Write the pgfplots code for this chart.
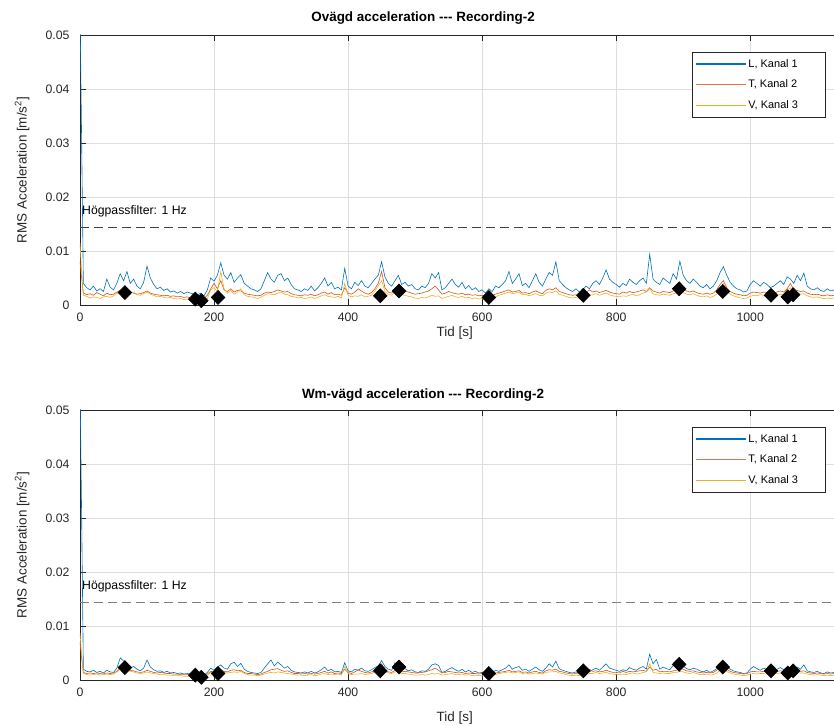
\documentclass[border=0pt]{standalone}
\usepackage{pgfplots}
\pgfplotsset{compat=1.18}
\usepackage{pgfplotstable}
\usepackage{fontspec}
\setmainfont{Liberation Sans}
\definecolor{mblue}{rgb}{0,0.447,0.741}
\definecolor{mred}{rgb}{0.85,0.325,0.098}
\definecolor{myellow}{rgb}{0.929,0.694,0.125}
\definecolor{axgray}{rgb}{0.15,0.15,0.15}
\definecolor{gridgray}{rgb}{0.87,0.87,0.87}

\pgfplotstableread{
t L T V
0 0.0550 0.0080 0.0115
2.5 0.0300 0.0050 0.0060
5 0.0040 0.0022 0.0018
10 0.0032 0.0019 0.0016
15 0.0028 0.0021 0.0013
20 0.0035 0.0018 0.0015
25 0.0026 0.0023 0.0014
30 0.0030 0.0020 0.0012
35 0.0025 0.0017 0.0015
40 0.0048 0.0022 0.0016
45 0.0033 0.0019 0.0014
50 0.0028 0.0020 0.0017
55 0.0040 0.0024 0.0021
60 0.0058 0.0027 0.0025
65 0.0045 0.0025 0.0029
70 0.0062 0.0028 0.0026
75 0.0040 0.0024 0.0022
80 0.0048 0.0022 0.0024
85 0.0035 0.0020 0.0019
90 0.0030 0.0021 0.0018
95 0.0042 0.0023 0.0021
100 0.0072 0.0026 0.0024
105 0.0050 0.0022 0.0020
110 0.0038 0.0020 0.0018
115 0.0030 0.0019 0.0015
120 0.0033 0.0018 0.0016
125 0.0027 0.0017 0.0014
130 0.0030 0.0018 0.0013
135 0.0024 0.0016 0.0014
140 0.0026 0.0017 0.0012
145 0.0022 0.0015 0.0011
150 0.0025 0.0016 0.0012
155 0.0021 0.0014 0.0010
160 0.0024 0.0015 0.0011
165 0.0022 0.0013 0.0009
170 0.0020 0.0012 0.0008
175 0.0018 0.0011 0.0008
180 0.0022 0.0014 0.0007
185 0.0017 0.0012 0.0008
190 0.0028 0.0018 0.0012
195 0.0050 0.0030 0.0028
200 0.0044 0.0040 0.0032
205 0.0055 0.0030 0.0025
210 0.0078 0.0045 0.0062
215 0.0055 0.0028 0.0030
220 0.0048 0.0025 0.0022
225 0.0060 0.0030 0.0027
230 0.0042 0.0024 0.0020
235 0.0050 0.0027 0.0024
240 0.0056 0.0026 0.0030
245 0.0040 0.0022 0.0019
250 0.0035 0.0020 0.0016
255 0.0030 0.0019 0.0015
260 0.0028 0.0018 0.0014
265 0.0025 0.0017 0.0012
270 0.0030 0.0018 0.0014
275 0.0045 0.0022 0.0018
280 0.0060 0.0024 0.0021
285 0.0048 0.0023 0.0020
290 0.0042 0.0025 0.0019
295 0.0055 0.0028 0.0022
300 0.0058 0.0026 0.0024
305 0.0045 0.0024 0.0020
310 0.0050 0.0025 0.0019
315 0.0038 0.0021 0.0016
320 0.0030 0.0019 0.0015
325 0.0028 0.0018 0.0013
330 0.0025 0.0017 0.0014
335 0.0030 0.0019 0.0012
340 0.0027 0.0018 0.0013
345 0.0035 0.0020 0.0015
350 0.0026 0.0017 0.0012
355 0.0032 0.0019 0.0014
360 0.0040 0.0022 0.0017
365 0.0050 0.0024 0.0019
370 0.0035 0.0020 0.0016
375 0.0042 0.0023 0.0015
380 0.0030 0.0019 0.0014
385 0.0033 0.0020 0.0016
390 0.0028 0.0018 0.0013
395 0.0068 0.0032 0.0040
400 0.0035 0.0022 0.0018
405 0.0030 0.0020 0.0015
410 0.0042 0.0024 0.0017
415 0.0036 0.0030 0.0016
420 0.0045 0.0026 0.0019
425 0.0035 0.0022 0.0015
430 0.0032 0.0020 0.0016
435 0.0040 0.0023 0.0018
440 0.0048 0.0030 0.0026
445 0.0055 0.0040 0.0035
450 0.0080 0.0062 0.0045
455 0.0052 0.0032 0.0025
460 0.0040 0.0024 0.0020
465 0.0035 0.0022 0.0018
470 0.0045 0.0028 0.0024
475 0.0055 0.0030 0.0026
480 0.0038 0.0024 0.0019
485 0.0042 0.0026 0.0018
490 0.0035 0.0024 0.0016
495 0.0038 0.0022 0.0015
500 0.0030 0.0020 0.0013
505 0.0028 0.0021 0.0012
510 0.0035 0.0022 0.0014
515 0.0032 0.0024 0.0013
520 0.0040 0.0026 0.0015
525 0.0058 0.0030 0.0018
530 0.0050 0.0035 0.0016
535 0.0060 0.0028 0.0017
540 0.0028 0.0020 0.0012
545 0.0032 0.0022 0.0014
550 0.0040 0.0025 0.0016
555 0.0048 0.0023 0.0018
560 0.0038 0.0021 0.0015
565 0.0033 0.0020 0.0014
570 0.0042 0.0022 0.0016
575 0.0030 0.0019 0.0013
580 0.0036 0.0020 0.0014
585 0.0028 0.0018 0.0012
590 0.0032 0.0019 0.0013
595 0.0025 0.0017 0.0011
600 0.0028 0.0018 0.0012
605 0.0022 0.0016 0.0010
610 0.0030 0.0017 0.0011
615 0.0025 0.0018 0.0012
620 0.0035 0.0020 0.0015
625 0.0032 0.0022 0.0018
630 0.0038 0.0024 0.0020
635 0.0045 0.0026 0.0022
640 0.0062 0.0028 0.0024
645 0.0040 0.0024 0.0021
650 0.0048 0.0025 0.0022
655 0.0058 0.0027 0.0024
660 0.0036 0.0022 0.0019
665 0.0040 0.0023 0.0020
670 0.0032 0.0021 0.0017
675 0.0045 0.0024 0.0019
680 0.0058 0.0026 0.0021
685 0.0042 0.0023 0.0018
690 0.0035 0.0021 0.0017
695 0.0048 0.0027 0.0022
700 0.0060 0.0030 0.0024
705 0.0055 0.0028 0.0023
710 0.0080 0.0032 0.0026
715 0.0045 0.0025 0.0020
720 0.0038 0.0023 0.0018
725 0.0032 0.0021 0.0016
730 0.0028 0.0019 0.0014
735 0.0025 0.0018 0.0013
740 0.0030 0.0019 0.0014
745 0.0024 0.0017 0.0012
750 0.0028 0.0018 0.0013
755 0.0035 0.0022 0.0016
760 0.0030 0.0028 0.0018
765 0.0040 0.0024 0.0019
770 0.0045 0.0026 0.0021
775 0.0038 0.0023 0.0018
780 0.0050 0.0025 0.0020
785 0.0065 0.0027 0.0022
790 0.0048 0.0024 0.0019
795 0.0042 0.0022 0.0017
800 0.0038 0.0021 0.0016
805 0.0033 0.0020 0.0015
810 0.0040 0.0024 0.0017
815 0.0036 0.0022 0.0016
820 0.0048 0.0025 0.0018
825 0.0042 0.0023 0.0020
830 0.0038 0.0024 0.0017
835 0.0045 0.0026 0.0019
840 0.0050 0.0028 0.0022
845 0.0040 0.0025 0.0024
850 0.0094 0.0032 0.0030
855 0.0048 0.0026 0.0021
860 0.0042 0.0024 0.0019
865 0.0038 0.0022 0.0018
870 0.0050 0.0025 0.0020
875 0.0045 0.0024 0.0019
880 0.0040 0.0023 0.0018
885 0.0058 0.0026 0.0021
890 0.0048 0.0028 0.0022
895 0.0081 0.0033 0.0025
900 0.0055 0.0030 0.0023
905 0.0045 0.0026 0.0020
910 0.0040 0.0024 0.0019
915 0.0048 0.0026 0.0021
920 0.0042 0.0023 0.0018
925 0.0035 0.0021 0.0016
930 0.0032 0.0020 0.0015
935 0.0038 0.0022 0.0017
940 0.0030 0.0020 0.0014
945 0.0035 0.0022 0.0016
950 0.0045 0.0028 0.0020
955 0.0060 0.0038 0.0030
960 0.0071 0.0045 0.0040
965 0.0055 0.0032 0.0026
970 0.0042 0.0025 0.0020
975 0.0035 0.0022 0.0017
980 0.0030 0.0020 0.0015
985 0.0028 0.0019 0.0013
990 0.0024 0.0017 0.0012
995 0.0026 0.0018 0.0013
1000 0.0038 0.0022 0.0016
1005 0.0045 0.0024 0.0018
1010 0.0040 0.0023 0.0017
1015 0.0035 0.0022 0.0019
1020 0.0042 0.0024 0.0018
1025 0.0038 0.0023 0.0017
1030 0.0032 0.0021 0.0016
1035 0.0035 0.0022 0.0017
1040 0.0040 0.0024 0.0018
1045 0.0045 0.0026 0.0020
1050 0.0038 0.0024 0.0019
1055 0.0052 0.0030 0.0028
1060 0.0048 0.0040 0.0032
1065 0.0040 0.0028 0.0024
1070 0.0055 0.0027 0.0022
1075 0.0045 0.0025 0.0020
1080 0.0059 0.0026 0.0021
1085 0.0035 0.0022 0.0017
1090 0.0030 0.0020 0.0015
1095 0.0028 0.0019 0.0014
1100 0.0032 0.0020 0.0015
1105 0.0027 0.0018 0.0013
1110 0.0025 0.0017 0.0012
1115 0.0030 0.0019 0.0013
1120 0.0026 0.0017 0.0012
1125 0.0028 0.0018 0.0013
}\unweighted

\pgfplotstableread{
t L T V
0 0.0550 0.0070 0.0087
2.5 0.0300 0.0040 0.0045
5 0.0020 0.0014 0.0012
10 0.0016 0.0012 0.0010
15 0.0015 0.0013 0.0009
20 0.0018 0.0012 0.0010
25 0.0014 0.0013 0.0011
30 0.0016 0.0012 0.0009
35 0.0013 0.0011 0.0010
40 0.0018 0.0013 0.0011
45 0.0015 0.0012 0.0010
50 0.0014 0.0013 0.0011
55 0.0022 0.0016 0.0015
60 0.0041 0.0024 0.0020
65 0.0035 0.0026 0.0022
70 0.0030 0.0022 0.0019
75 0.0022 0.0018 0.0016
80 0.0025 0.0017 0.0015
85 0.0020 0.0015 0.0013
90 0.0017 0.0014 0.0012
95 0.0022 0.0015 0.0013
100 0.0037 0.0018 0.0015
105 0.0024 0.0016 0.0013
110 0.0019 0.0014 0.0012
115 0.0016 0.0013 0.0011
120 0.0017 0.0014 0.0010
125 0.0014 0.0013 0.0010
130 0.0016 0.0012 0.0009
135 0.0013 0.0012 0.0009
140 0.0014 0.0011 0.0008
145 0.0012 0.0011 0.0008
150 0.0013 0.0010 0.0008
155 0.0011 0.0010 0.0007
160 0.0012 0.0010 0.0007
165 0.0011 0.0009 0.0006
170 0.0010 0.0008 0.0006
175 0.0009 0.0008 0.0005
180 0.0011 0.0009 0.0005
185 0.0009 0.0008 0.0006
190 0.0014 0.0011 0.0009
195 0.0022 0.0016 0.0014
200 0.0018 0.0015 0.0013
205 0.0024 0.0017 0.0015
210 0.0028 0.0019 0.0020
215 0.0022 0.0016 0.0014
220 0.0020 0.0015 0.0013
225 0.0030 0.0018 0.0014
230 0.0033 0.0019 0.0015
235 0.0025 0.0017 0.0014
240 0.0031 0.0018 0.0016
245 0.0020 0.0014 0.0012
250 0.0016 0.0012 0.0010
255 0.0014 0.0012 0.0009
260 0.0013 0.0011 0.0009
265 0.0012 0.0010 0.0008
270 0.0014 0.0011 0.0009
275 0.0022 0.0014 0.0011
280 0.0030 0.0016 0.0013
285 0.0037 0.0019 0.0014
290 0.0026 0.0020 0.0013
295 0.0033 0.0021 0.0015
300 0.0028 0.0018 0.0014
305 0.0022 0.0016 0.0013
310 0.0025 0.0017 0.0012
315 0.0018 0.0014 0.0011
320 0.0015 0.0012 0.0010
325 0.0014 0.0012 0.0009
330 0.0013 0.0011 0.0009
335 0.0015 0.0012 0.0008
340 0.0013 0.0011 0.0009
345 0.0016 0.0012 0.0010
350 0.0013 0.0011 0.0008
355 0.0015 0.0012 0.0009
360 0.0019 0.0014 0.0011
365 0.0024 0.0016 0.0012
370 0.0017 0.0013 0.0010
375 0.0020 0.0015 0.0011
380 0.0015 0.0012 0.0010
385 0.0016 0.0013 0.0011
390 0.0014 0.0012 0.0009
395 0.0032 0.0020 0.0025
400 0.0017 0.0014 0.0012
405 0.0015 0.0012 0.0010
410 0.0020 0.0015 0.0011
415 0.0018 0.0019 0.0011
420 0.0022 0.0016 0.0012
425 0.0017 0.0014 0.0010
430 0.0016 0.0013 0.0011
435 0.0019 0.0015 0.0012
440 0.0023 0.0018 0.0015
445 0.0026 0.0022 0.0019
450 0.0036 0.0030 0.0024
455 0.0025 0.0019 0.0015
460 0.0020 0.0015 0.0013
465 0.0018 0.0014 0.0012
470 0.0032 0.0018 0.0015
475 0.0026 0.0019 0.0016
480 0.0019 0.0015 0.0012
485 0.0021 0.0016 0.0012
490 0.0017 0.0015 0.0011
495 0.0019 0.0014 0.0010
500 0.0015 0.0013 0.0009
505 0.0014 0.0013 0.0009
510 0.0017 0.0014 0.0010
515 0.0016 0.0015 0.0009
520 0.0020 0.0017 0.0010
525 0.0028 0.0019 0.0012
530 0.0030 0.0022 0.0011
535 0.0027 0.0018 0.0012
540 0.0014 0.0013 0.0009
545 0.0016 0.0014 0.0010
550 0.0020 0.0016 0.0011
555 0.0023 0.0015 0.0012
560 0.0019 0.0014 0.0010
565 0.0016 0.0013 0.0010
570 0.0020 0.0014 0.0011
575 0.0015 0.0012 0.0009
580 0.0018 0.0013 0.0010
585 0.0014 0.0012 0.0008
590 0.0016 0.0012 0.0009
595 0.0013 0.0011 0.0008
600 0.0014 0.0012 0.0008
605 0.0011 0.0010 0.0007
610 0.0015 0.0011 0.0008
615 0.0013 0.0012 0.0008
620 0.0018 0.0013 0.0010
625 0.0016 0.0014 0.0012
630 0.0019 0.0015 0.0013
635 0.0022 0.0016 0.0014
640 0.0028 0.0018 0.0015
645 0.0020 0.0015 0.0013
650 0.0023 0.0016 0.0014
655 0.0025 0.0017 0.0015
660 0.0018 0.0014 0.0012
665 0.0020 0.0015 0.0013
670 0.0016 0.0013 0.0011
675 0.0020 0.0015 0.0012
680 0.0024 0.0016 0.0013
685 0.0019 0.0014 0.0012
690 0.0016 0.0013 0.0011
695 0.0022 0.0017 0.0014
700 0.0030 0.0019 0.0015
705 0.0024 0.0018 0.0015
710 0.0035 0.0020 0.0016
715 0.0021 0.0016 0.0013
720 0.0018 0.0015 0.0012
725 0.0016 0.0013 0.0010
730 0.0014 0.0012 0.0009
735 0.0013 0.0011 0.0008
740 0.0015 0.0012 0.0009
745 0.0012 0.0011 0.0008
750 0.0014 0.0012 0.0008
755 0.0017 0.0014 0.0010
760 0.0015 0.0020 0.0012
765 0.0019 0.0016 0.0012
770 0.0022 0.0017 0.0014
775 0.0018 0.0015 0.0012
780 0.0024 0.0016 0.0013
785 0.0030 0.0018 0.0014
790 0.0022 0.0016 0.0012
795 0.0020 0.0014 0.0011
800 0.0018 0.0014 0.0010
805 0.0016 0.0013 0.0010
810 0.0019 0.0016 0.0011
815 0.0017 0.0014 0.0010
820 0.0023 0.0016 0.0012
825 0.0020 0.0015 0.0013
830 0.0018 0.0016 0.0011
835 0.0022 0.0017 0.0012
840 0.0025 0.0018 0.0014
845 0.0020 0.0016 0.0015
850 0.0048 0.0024 0.0030
855 0.0030 0.0018 0.0014
860 0.0038 0.0020 0.0013
865 0.0020 0.0015 0.0012
870 0.0024 0.0016 0.0013
875 0.0021 0.0016 0.0012
880 0.0019 0.0015 0.0012
885 0.0027 0.0017 0.0014
890 0.0023 0.0018 0.0014
895 0.0035 0.0022 0.0016
900 0.0026 0.0020 0.0015
905 0.0021 0.0017 0.0013
910 0.0019 0.0016 0.0012
915 0.0022 0.0017 0.0014
920 0.0020 0.0015 0.0012
925 0.0017 0.0014 0.0010
930 0.0015 0.0013 0.0010
935 0.0018 0.0014 0.0011
940 0.0014 0.0013 0.0009
945 0.0017 0.0014 0.0010
950 0.0021 0.0018 0.0013
955 0.0026 0.0024 0.0018
960 0.0032 0.0028 0.0022
965 0.0025 0.0020 0.0016
970 0.0020 0.0016 0.0013
975 0.0017 0.0014 0.0011
980 0.0015 0.0013 0.0010
985 0.0014 0.0012 0.0009
990 0.0012 0.0011 0.0008
995 0.0013 0.0012 0.0009
1000 0.0020 0.0015 0.0011
1005 0.0025 0.0016 0.0012
1010 0.0021 0.0015 0.0011
1015 0.0018 0.0015 0.0012
1020 0.0022 0.0016 0.0012
1025 0.0019 0.0015 0.0011
1030 0.0016 0.0014 0.0010
1035 0.0018 0.0014 0.0011
1040 0.0020 0.0016 0.0012
1045 0.0023 0.0017 0.0013
1050 0.0019 0.0016 0.0012
1055 0.0024 0.0019 0.0017
1060 0.0022 0.0024 0.0019
1065 0.0019 0.0017 0.0015
1070 0.0024 0.0017 0.0014
1075 0.0020 0.0016 0.0013
1080 0.0028 0.0017 0.0013
1085 0.0017 0.0014 0.0011
1090 0.0015 0.0013 0.0010
1095 0.0014 0.0012 0.0009
1100 0.0016 0.0013 0.0010
1105 0.0013 0.0012 0.0009
1110 0.0012 0.0011 0.0008
1115 0.0015 0.0012 0.0009
1120 0.0013 0.0011 0.0008
1125 0.0014 0.0012 0.0009
}\weighted

\pgfplotsset{
  legend image code/.code={\draw[#1] (0bp,0bp) -- (50bp,0bp);},
  every axis title shift=0pt,
  matlab/.style={
    scale only axis, width=754bp, height=270bp,
    xmin=0, xmax=1125, ymin=0, ymax=0.05,
    axis y line*=left,
    xtick={0,200,400,600,800,1000},
    ytick={0,0.01,0.02,0.03,0.04,0.05},
    yticklabels={0,0.01,0.02,0.03,0.04,0.05},
    scaled y ticks=false,
    /pgf/number format/1000 sep={},
    /pgf/number format/assume math mode=true,
    tick align=inside, major tick length=6bp,
    grid=major, major grid style={gridgray, line width=0.6bp},
    axis line style={axgray, line width=0.7bp},
    tick style={axgray, line width=0.7bp},
    tick label style={font=\fontsize{12.3}{14}\selectfont, text=axgray},
    yticklabel style={xshift=-7bp},
    xticklabel style={yshift=-4bp},
    label style={font=\fontsize{13.5}{16}\selectfont, text=axgray},
    ylabel={RMS Acceleration [m/s\textsuperscript{2}]},
    ylabel style={at={(axis description cs:-0.0769,0.5)}, anchor=center},
    title style={font=\bfseries\fontsize{13.5}{16}\selectfont, anchor=center},
    legend cell align=left,
    legend style={at={(rel axis cs:0.8117,0.937)}, anchor=north west,
      draw=axgray, line width=0.6bp, fill=white,
      font=\fontsize{11}{13}\selectfont, row sep=7.3bp, inner xsep=3bp, inner ysep=5bp},
    every axis plot/.append style={line width=0.6bp},
  }
}

\begin{document}
\begin{tikzpicture}
\begin{axis}[matlab, at={(0,375bp)}, anchor=south west,
  title={Ovägd acceleration {-}{-}{-} Recording-2},
  title style={at={(axis description cs:0.455,1.063)}},
  xlabel={Tid [s]},
  xlabel style={at={(axis description cs:0.497,-0.105)}, anchor=center}]
\addlegendimage{mblue, line width=1.1bp}
\addlegendentry{\makebox[72bp][l]{L, Kanal 1}}
\addlegendimage{mred!80!white, line width=1.1bp}
\addlegendentry{\makebox[72bp][l]{T, Kanal 2}}
\addlegendimage{myellow, line width=1.1bp}
\addlegendentry{\makebox[72bp][l]{V, Kanal 3}}
\addplot[mblue, forget plot] table[x=t,y=L] {\unweighted};
\addplot[mred, forget plot] table[x=t,y=T] {\unweighted};
\addplot[myellow, forget plot] table[x=t,y=V] {\unweighted};
\addplot[black!75, line width=0.7bp, dash pattern=on 9bp off 5bp, forget plot] coordinates {(0,0.0143) (1125,0.0143)};
\addplot[only marks, mark=diamond*, mark size=7bp, mark options={fill=black, draw=black, xscale=1.3}, forget plot]
  coordinates {(67,0.0023)(172,0.0011)(181,0.0008)(206,0.0014)(448,0.0017)(476,0.0026)(610,0.0014)(751,0.0018)(894,0.0030)(959,0.0025)(1031,0.0018)(1056,0.0015)(1064,0.0019)};
\node[anchor=west, inner sep=2bp, font=\fontsize{12.3}{14}\selectfont] at (axis cs:0,0.0174) {Högpassfilter: 1 Hz};
\end{axis}

\begin{axis}[matlab, at={(0,0)}, anchor=south west,
  title={Wm-vägd acceleration {-}{-}{-} Recording-2},
  title style={at={(axis description cs:0.455,1.056)}},
  xlabel={Tid [s]},
  xlabel style={at={(axis description cs:0.497,-0.141)}, anchor=center}]
\addlegendimage{mblue, line width=1.1bp}
\addlegendentry{\makebox[72bp][l]{L, Kanal 1}}
\addlegendimage{mred!80!white, line width=1.1bp}
\addlegendentry{\makebox[72bp][l]{T, Kanal 2}}
\addlegendimage{myellow, line width=1.1bp}
\addlegendentry{\makebox[72bp][l]{V, Kanal 3}}
\addplot[mblue, forget plot] table[x=t,y=L] {\weighted};
\addplot[mred, forget plot] table[x=t,y=T] {\weighted};
\addplot[myellow, forget plot] table[x=t,y=V] {\weighted};
\addplot[black!50, line width=0.7bp, dash pattern=on 9bp off 5bp, forget plot] coordinates {(0,0.0143) (1125,0.0143)};
\addplot[only marks, mark=diamond*, mark size=7bp, mark options={fill=black, draw=black, xscale=1.3}, forget plot]
  coordinates {(67,0.0023)(172,0.0009)(181,0.0005)(206,0.0012)(448,0.0017)(476,0.0024)(610,0.0012)(751,0.0017)(894,0.0029)(959,0.0024)(1031,0.0017)(1056,0.0013)(1064,0.0017)};
\node[anchor=west, inner sep=2bp, font=\fontsize{12.3}{14}\selectfont] at (axis cs:0,0.0174) {Högpassfilter: 1 Hz};
\end{axis}
\pgfresetboundingbox
\path (-80bp,-46bp) rectangle (754bp,680bp);
\end{tikzpicture}
\end{document}
